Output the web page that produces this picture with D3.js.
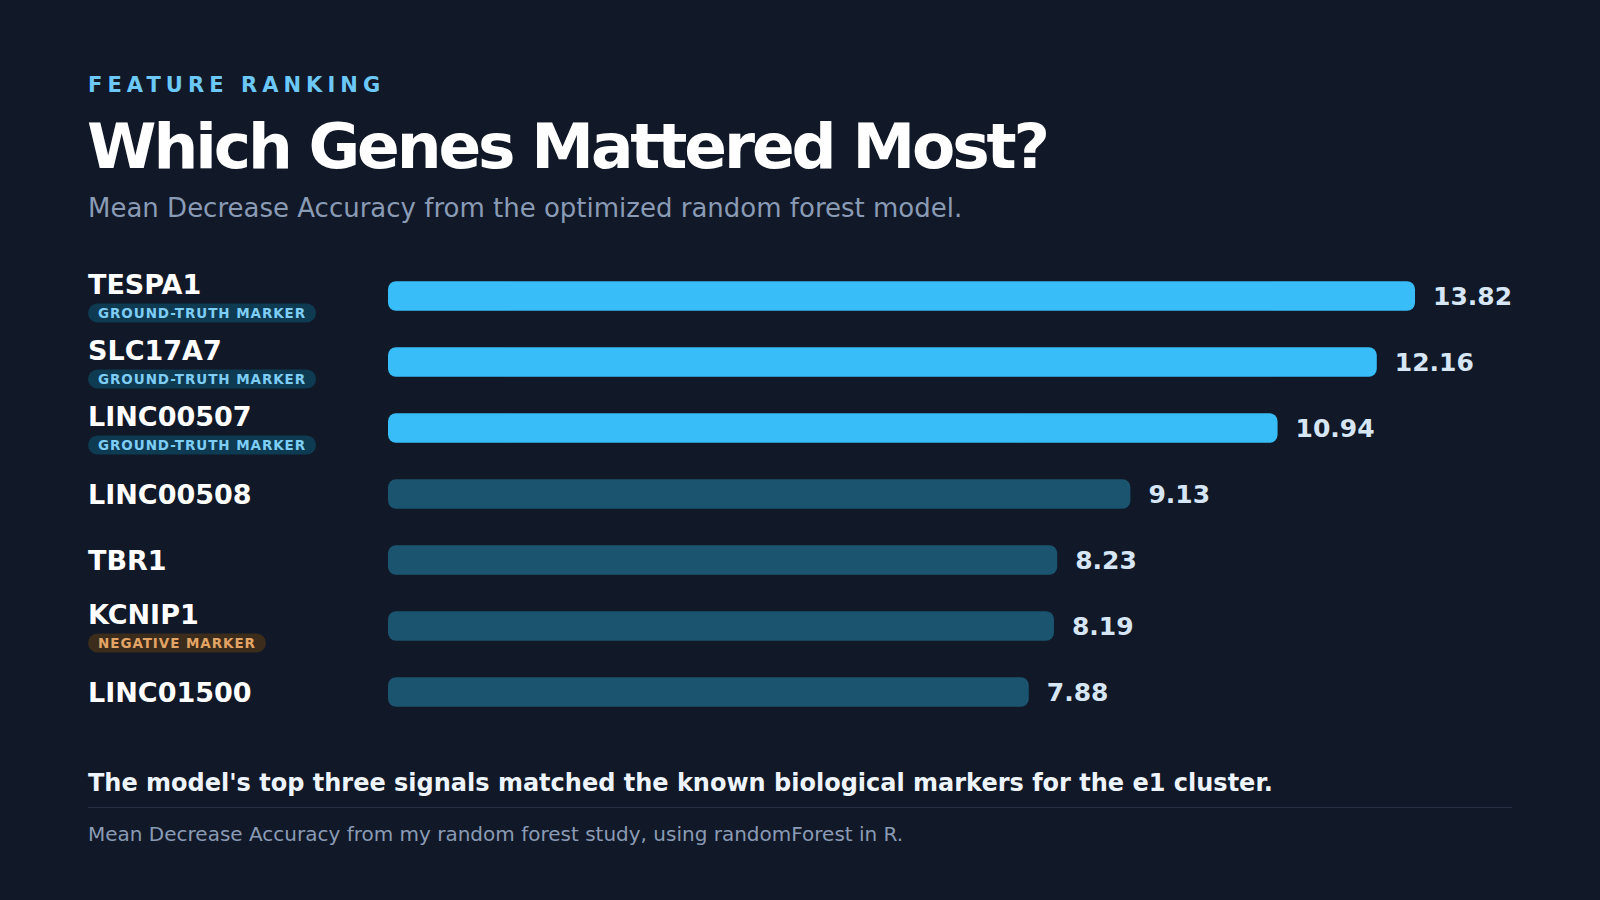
<!DOCTYPE html>
<html>
<head>
<meta charset="utf-8">
<script src="https://cdn.jsdelivr.net/npm/d3@7"></script>
<style>
  html, body { margin: 0; padding: 0; background: #111827; }
  svg { display: block; font-family: "DejaVu Sans", sans-serif; }
</style>
</head>
<body>
<script>
// feature importance (Mean Decrease Accuracy)
var genes = ['TESPA1', 'SLC17A7', 'LINC00507', 'LINC00508', 'TBR1', 'KCNIP1', 'LINC01500'];
var values = [13.82, 12.16, 10.94, 9.13, 8.23, 8.19, 7.88];
var badges = ['GROUND-TRUTH MARKER', 'GROUND-TRUTH MARKER', 'GROUND-TRUTH MARKER', null, null, 'NEGATIVE MARKER', null];
var highlight = [true, true, true, false, false, false, false];

var rows = genes.map(function(g, i) {
  return {gene: g, value: values[i], badge: badges[i], hi: highlight[i]};
});

var W = 1600, H = 900, left = 88, right = 1512;

var svg = d3.select('body').append('svg')
    .attr('width', W)
    .attr('height', H)
    .style('background', '#111827');

// header
svg.append('text')
    .attr('x', left).attr('y', 92)
    .attr('fill', '#6cc8f7')
    .attr('font-size', 21).attr('font-weight', 'bold')
    .attr('letter-spacing', '5.05px')
    .text('FEATURE RANKING');

svg.append('text')
    .attr('x', left - 1).attr('y', 168)
    .attr('fill', '#ffffff')
    .attr('font-size', 63).attr('font-weight', 'bold')
    .attr('letter-spacing', '-3.1px')
    .text('Which Genes Mattered Most?');

svg.append('text')
    .attr('x', left).attr('y', 217)
    .attr('fill', '#8a9bb5')
    .attr('font-size', 26)
    .text('Mean Decrease Accuracy from the optimized random forest model.');

// scales
var y = d3.scaleBand()
    .domain(genes)
    .range([263, 263 + 7 * 66])
    .paddingInner(0.55)
    .paddingOuter(0.275);

var barX0 = 388;
var x = d3.scaleLinear()
    .domain([0, 12.63])
    .range([barX0, 1415])
    .clamp(true);

var row = svg.selectAll('g.row')
  .data(rows)
  .enter().append('g')
    .attr('class', 'row')
    .attr('transform', function(d) { return 'translate(0,' + (y(d.gene) + y.bandwidth() / 2) + ')'; });

row.append('rect')
    .attr('x', barX0)
    .attr('y', -y.bandwidth() / 2)
    .attr('height', y.bandwidth())
    .attr('width', function(d) { return x(d.value) - barX0; })
    .attr('rx', 8)
    .attr('fill', function(d) { return d.hi ? '#38bdf8' : '#1b546f'; });

row.append('text')
    .attr('x', function(d) { return x(d.value) + 18; })
    .attr('y', 9)
    .attr('fill', '#d7e6f5')
    .attr('font-size', 25).attr('font-weight', 'bold')
    .text(function(d) { return d.value.toFixed(2); });

row.append('text')
    .attr('x', left)
    .attr('y', function(d) { return d.badge ? -2.5 : 9.5; })
    .attr('fill', '#ffffff')
    .attr('font-size', 27).attr('font-weight', 'bold')
    .text(function(d) { return d.gene; });

var badge = row.filter(function(d) { return d.badge; });

var badgeText = badge.append('text')
    .attr('x', left + 10)
    .attr('y', 22.3)
    .attr('font-size', 13.5).attr('font-weight', 'bold')
    .attr('letter-spacing', '0.93px')
    .attr('fill', function(d) { return d.badge === 'NEGATIVE MARKER' ? '#e3a565' : '#7dcdf5'; })
    .text(function(d) { return d.badge; });

badgeText.each(function(d) {
  var w = this.getComputedTextLength();
  d3.select(this.parentNode).insert('rect', function() { return this.lastChild; })
      .attr('x', left)
      .attr('y', 7.5)
      .attr('width', w + 20)
      .attr('height', 19)
      .attr('rx', 9.5)
      .attr('fill', d.badge === 'NEGATIVE MARKER' ? '#3b2c1c' : '#0e3a52');
});

// footer
svg.append('text')
    .attr('x', left).attr('y', 791)
    .attr('fill', '#eef4fb')
    .attr('font-size', 24).attr('font-weight', 'bold')
    .text("The model's top three signals matched the known biological markers for the e1 cluster.");

svg.append('line')
    .attr('x1', left).attr('x2', right)
    .attr('y1', 807.5).attr('y2', 807.5)
    .attr('stroke', '#253045').attr('stroke-width', 1);

svg.append('text')
    .attr('x', left).attr('y', 841)
    .attr('fill', '#8a9bb5')
    .attr('font-size', 20)
    .text('Mean Decrease Accuracy from my random forest study, using randomForest in R.');
</script>
</body>
</html>
